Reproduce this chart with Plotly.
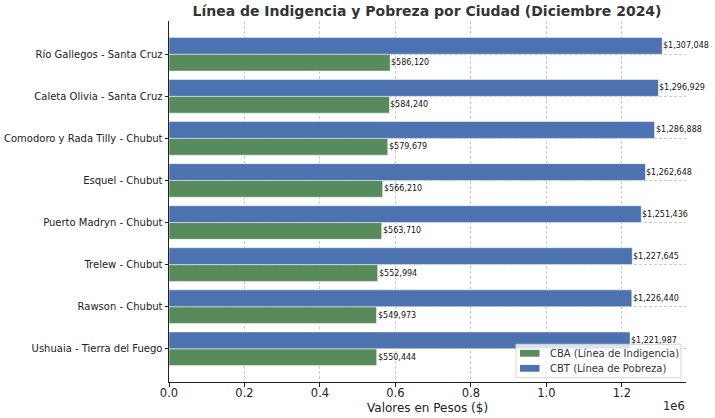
import plotly.graph_objects as go

ciudades = ["Río Gallegos - Santa Cruz", "Caleta Olivia - Santa Cruz",
            "Comodoro y Rada Tilly - Chubut", "Esquel - Chubut",
            "Puerto Madryn - Chubut", "Trelew - Chubut", "Rawson - Chubut",
            "Ushuaia - Tierra del Fuego"]
cbt = [1307048, 1296929, 1286888, 1262648, 1251436, 1227645, 1226440, 1221987]
cba = [586120, 584240, 579679, 566210, 563710, 552994, 549973, 550444]
x_ticks = [0, 200000, 400000, 600000, 800000, 1000000, 1200000]
x_tick_labels = ["0.0", "0.2", "0.4", "0.6", "0.8", "1.0", "1.2"]
series_names = ["CBA (Línea de Indigencia)", "CBT (Línea de Pobreza)"]

BLUE = "#4c72b0"
GREEN = "#588b5b"
FONT = "DejaVu Sans"

# plot area in pixels
L, R, T, B = 169, 686, 21, 382
W, H = 715, 418
def px(xp):
    return (xp - L) / (R - L)
def py(yp):
    return (B - yp) / (B - T)

idx = list(range(len(ciudades)))
fig = go.Figure()
fig.add_trace(go.Bar(
    x=cba, y=[i + 0.2 for i in idx], orientation="h", width=0.4,
    name=series_names[0], marker=dict(color=GREEN, line=dict(color="rgba(255,255,255,0.5)", width=1))))
fig.add_trace(go.Bar(
    x=cbt, y=[i - 0.2 for i in idx], orientation="h", width=0.4,
    name=series_names[1], marker=dict(color=BLUE, line=dict(color="rgba(255,255,255,0.5)", width=1))))

ann = []
for i in idx:
    ann.append(dict(x=cbt[i], y=i - 0.2, text=f"${cbt[i]:,}", xref="x", yref="y",
                    xanchor="left", yanchor="middle", xshift=-1, showarrow=False,
                    font=dict(family=FONT, size=8, color="#111")))
    ann.append(dict(x=cba[i], y=i + 0.2, text=f"${cba[i]:,}", xref="x", yref="y",
                    xanchor="left", yanchor="middle", xshift=-1, showarrow=False,
                    font=dict(family=FONT, size=8, color="#111")))
ann.append(dict(x=0.5, y=py(408), xref="paper", yref="paper",
                text="Valores en Pesos ($)", showarrow=False, xanchor="center", yanchor="middle",
                font=dict(family=FONT, size=12, color="#222")))
ann.append(dict(x=px(687), y=py(406), xref="paper", yref="paper",
                text="1e6", showarrow=False, xanchor="right", yanchor="middle",
                font=dict(family=FONT, size=11.5, color="#222")))

# manual legend (matplotlib style)
shapes = [dict(type="rect", xref="paper", yref="paper",
               x0=px(516), x1=px(681), y0=py(377.7), y1=py(344.3),
               fillcolor="rgba(255,255,255,0.8)", line=dict(color="#d5d5d5", width=1))]
for k, (col, yc) in enumerate([(GREEN, 353.3), (BLUE, 368.3)]):
    shapes.append(dict(type="rect", xref="paper", yref="paper",
                       x0=px(520), x1=px(539.5), y0=py(yc + 3.4), y1=py(yc - 3.4),
                       fillcolor=col, line=dict(width=0)))
    ann.append(dict(x=px(548), y=py(yc), xref="paper", yref="paper", text=series_names[k],
                    showarrow=False, xanchor="left", yanchor="middle",
                    font=dict(family=FONT, size=10, color="#333")))

fig.update_layout(
    width=W, height=H,
    margin=dict(l=L, r=W - R, t=T, b=H - B, autoexpand=False),
    barmode="overlay",
    plot_bgcolor="white", paper_bgcolor="white",
    title=dict(text="<b>Línea de Indigencia y Pobreza por Ciudad (Diciembre 2024)</b>",
               x=427 / W, xanchor="center", y=1 - 11 / H, yanchor="middle",
               font=dict(family=FONT, size=14, color="#333")),
    xaxis=dict(range=[0, 1370000], tickvals=x_ticks, ticktext=x_tick_labels,
               showgrid=True, gridcolor="#cccccc", griddash="3px,2px", gridwidth=0.8,
               showline=True, linecolor="#222", linewidth=1, automargin=False,
               ticks="outside", ticklen=3.5, tickcolor="#222", ticklabelstandoff=-3,
               tickfont=dict(family=FONT, size=11.5, color="#222"), zeroline=False),
    yaxis=dict(range=[7.79, -0.79], tickvals=idx, ticktext=ciudades,
               showgrid=True, gridcolor="#cccccc", griddash="3px,2px", gridwidth=0.8,
               showline=True, linecolor="#222", linewidth=1, automargin=False,
               ticks="outside", ticklen=3.5, tickcolor="#222",
               tickfont=dict(family=FONT, size=10, color="#222"), zeroline=False),
    annotations=ann,
    shapes=shapes,
    showlegend=False,
)
fig.write_html("out.html", config={"displayModeBar": False},
               post_script="document.body.style.margin='0';document.body.style.overflow='hidden';")
